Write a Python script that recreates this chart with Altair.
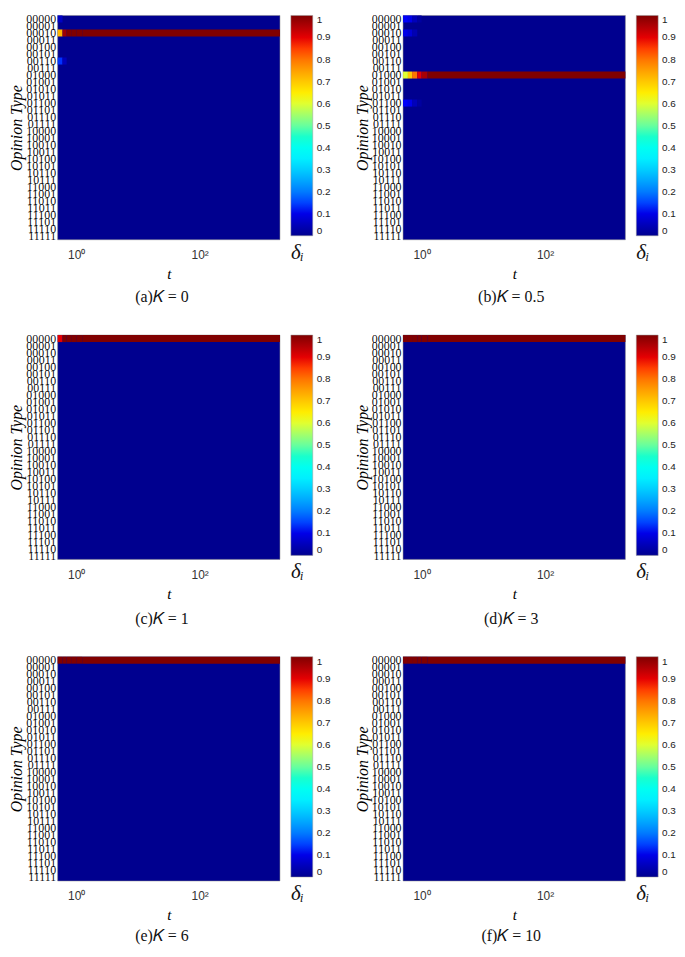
import altair as alt
import pandas as pd

opinion_types = [
    "00000", "00001", "00010", "00011", "00100", "00101", "00110", "00111",
    "01000", "01001", "01010", "01011", "01100", "01101", "01110", "01111",
    "10000", "10001", "10010", "10011", "10100", "10101", "10110", "10111",
    "11000", "11001", "11010", "11011", "11100", "11101", "11110", "11111",
]

# time bin edges (log axis)
t_edges = [0.5, 0.6, 0.7, 0.85, 1.0, 1.25, 2000.0]

panel_letters = ["a", "b", "c", "d", "e", "f"]
K_values = ["0", "0.5", "1", "3", "6", "10"]
dominant_type = ["00010", "01000", "00000", "00000", "00000", "00000"]
dominant_vals = [
    [0.72, 0.97, 1.0, 1.0, 1.0, 1.0],
    [0.6, 0.7, 0.8, 0.9, 0.96, 1.0],
    [0.9, 1.0, 1.0, 1.0, 1.0, 1.0],
    [1.0, 1.0, 1.0, 1.0, 1.0, 1.0],
    [1.0, 1.0, 1.0, 1.0, 1.0, 1.0],
    [1.0, 1.0, 1.0, 1.0, 1.0, 1.0],
]
# small non-zero values of the other opinion types (all others are 0)
minor_vals = [
    {"00110": [0.14, 0.05, 0.0, 0.0, 0.0, 0.0], "00000": [0.06, 0.0, 0.0, 0.0, 0.0, 0.0]},
    {"00000": [0.12, 0.1, 0.05, 0.02, 0.0, 0.0],
     "00010": [0.1, 0.08, 0.04, 0.0, 0.0, 0.0],
     "01100": [0.12, 0.1, 0.05, 0.02, 0.0, 0.0]},
    {},
    {},
    {},
    {},
]

jet_stops = [0.0, 0.125, 0.375, 0.625, 0.875, 1.0]
jet_colors = ["#00008F", "#0000FF", "#00FFFF", "#FFFF00", "#FF0000", "#800000"]
legend_ticks = [0, 0.1, 0.2, 0.3, 0.4, 0.5, 0.6, 0.7, 0.8, 0.9, 1.0]

caption_offset = [8, 8, 10, 10, 5, 5]
caption_dx = [-7, -3, -7, -3, -7, -3]

SERIF = "Liberation Serif"
SANS = "Liberation Sans"
W, H = 224, 226


def panel(i):
    rows = []
    for op in opinion_types:
        for s in range(len(t_edges) - 1):
            if op == dominant_type[i]:
                v = dominant_vals[i][s]
            else:
                v = minor_vals[i].get(op, [0.0] * 6)[s]
            if v > 0:
                rows.append({"opinion": op, "t0": t_edges[s], "t1": t_edges[s + 1], "delta": v})
    df = pd.DataFrame(rows)
    return alt.Chart(df).mark_rect().encode(
        x=alt.X("t0:Q",
                scale=alt.Scale(type="log", domain=[t_edges[0], t_edges[-1]], nice=False),
                axis=alt.Axis(title="t", values=[1, 100],
                              labelExpr="datum.value == 1 ? '10⁰' : '10²'",
                              ticks=False, domain=False, grid=False,
                              labelFont=SANS, labelFontSize=12, labelColor="#333",
                              labelPadding=10,
                              titleFont=SERIF, titleFontStyle="italic",
                              titleFontWeight="normal", titleFontSize=15,
                              titlePadding=6)),
        x2="t1:Q",
        y=alt.Y("opinion:N", sort=opinion_types,
                scale=alt.Scale(domain=opinion_types, paddingInner=0, paddingOuter=0),
                axis=alt.Axis(title="Opinion Type", ticks=False, domain=False,
                              labelOverlap=False, labelFont=SERIF, labelFontSize=12,
                              labelColor="#000", labelOpacity=0.95, labelPadding=2,
                              titleFont=SERIF, titleFontStyle="italic",
                              titleFontWeight="normal", titleFontSize=16,
                              titlePadding=1)),
        color=alt.Color("delta:Q", scale=alt.Scale(domain=jet_stops, range=jet_colors),
                        legend=alt.Legend(type="gradient", direction="vertical",
                                          title="δᵢ", values=legend_ticks, format=".1~f",
                                          orient="right", offset=11,
                                          gradientLength=H - 4, gradientThickness=22,
                                          gradientStrokeColor="#999", gradientStrokeWidth=0.5,
                                          labelFont=SANS, labelFontSize=10,
                                          labelColor="#222", labelOffset=4,
                                          titleOrient="bottom", titleFont=SERIF,
                                          titleFontStyle="italic", titleFontWeight="normal",
                                          titleFontSize=21, titleColor="#111",
                                          titlePadding=6)),
    ).properties(
        width=W, height=H,
        title=alt.TitleParams(text=f"({panel_letters[i]})𝐾 = {K_values[i]}",
                              orient="bottom", frame="group", font=SERIF, fontSize=16,
                              fontWeight="normal", color="#111",
                              offset=caption_offset[i], dx=caption_dx[i]),
    )


rows = []
for r in range(3):
    rows.append(
        alt.hconcat(panel(2 * r), panel(2 * r + 1), spacing=22)
        .resolve_scale(color="independent")
        .resolve_legend(color="independent")
    )

chart = alt.vconcat(*rows, spacing=25).resolve_scale(
    color="independent"
).resolve_legend(color="independent").properties(
    padding=0
).configure_view(stroke="#888", strokeWidth=0.5, fill="#00008F")

chart.save("out.html", embed_options={"renderer": "svg", "actions": False})
